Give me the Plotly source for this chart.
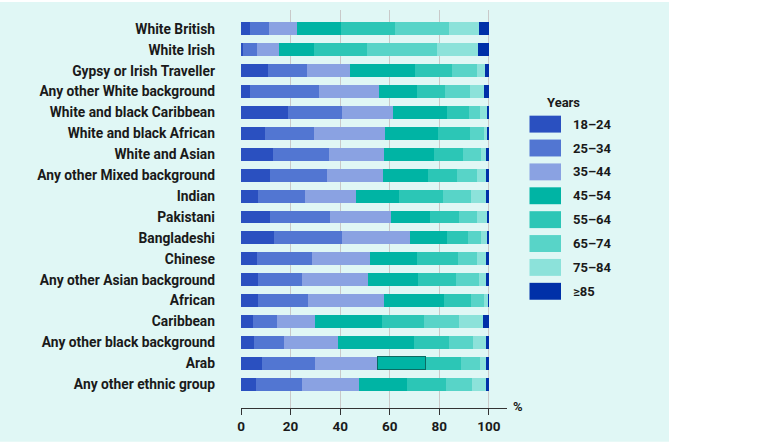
import plotly.graph_objects as go

categories = [
    "White British", "White Irish", "Gypsy or Irish Traveller", "Any other White background",
    "White and black Caribbean", "White and black African", "White and Asian",
    "Any other Mixed background", "Indian", "Pakistani", "Bangladeshi", "Chinese",
    "Any other Asian background", "African", "Caribbean", "Any other black background",
    "Arab", "Any other ethnic group",
]

age_groups = ["18–24", "25–34", "35–44", "45–54", "55–64", "65–74", "75–84", "≥85"]

age_18_24 = [3.6, 0.7, 10.9, 3.8, 19.1, 9.7, 12.8, 11.6, 7.0, 11.8, 13.3, 6.5, 6.9, 6.9, 4.7, 5.1, 8.5, 6.0]
age_25_34 = [7.6, 5.6, 15.7, 27.7, 21.6, 19.9, 22.5, 23.1, 18.9, 24.2, 27.3, 22.1, 17.7, 20.3, 9.8, 12.2, 21.3, 18.6]
age_35_44 = [11.2, 9.0, 17.4, 24.1, 20.5, 28.5, 22.2, 22.6, 20.6, 24.5, 27.7, 23.3, 26.7, 30.3, 15.5, 21.9, 25.4, 22.8]
age_45_54 = [17.9, 14.1, 26.0, 15.4, 21.9, 21.2, 20.3, 18.1, 17.3, 15.7, 14.8, 19.2, 19.9, 24.4, 26.9, 30.6, 19.3, 19.5]
age_55_64 = [21.7, 21.3, 15.1, 11.3, 8.8, 12.9, 11.7, 11.6, 17.8, 11.7, 8.4, 16.3, 15.6, 10.8, 17.0, 14.1, 14.2, 15.8]
age_65_74 = [21.9, 28.3, 10.1, 9.9, 4.5, 5.8, 7.3, 8.2, 11.3, 7.4, 5.3, 7.9, 9.2, 5.3, 13.9, 9.6, 7.7, 10.6]
age_75_84 = [12.3, 16.8, 3.2, 5.8, 2.7, 1.5, 2.4, 4.0, 5.9, 3.8, 2.5, 3.9, 3.2, 1.7, 10.0, 5.4, 2.8, 5.4]
age_85_plus = [3.8, 4.2, 1.6, 2.0, 0.9, 0.5, 0.8, 0.8, 1.2, 0.9, 0.7, 0.8, 0.8, 0.3, 2.2, 1.1, 0.8, 1.3]

series = [age_18_24, age_25_34, age_35_44, age_45_54, age_55_64, age_65_74, age_75_84, age_85_plus]
colors = ["#2a50c0", "#5276d2", "#8aa2e2", "#00b4a4", "#2cc6b6", "#58d4c8", "#8ce2da", "#0030a8"]

x_ticks = [0, 20, 40, 60, 80, 100]

FONT = "Roboto"
TEXT = "#1a1a1a"

fig = go.Figure()
for name, vals, col in zip(age_groups, series, colors):
    lw = [0] * len(categories)
    if name == "45–54":
        lw[categories.index("Arab")] = 1
    fig.add_trace(go.Bar(
        y=categories, x=vals, name=name, orientation="h",
        marker=dict(color=col, line=dict(width=lw, color="#0b6b63")),
        showlegend=False,
    ))

PL, PR, PT, PB = 241, 507, 10, 410
PW, PH = PR - PL, PB - PT


def px_x(px):
    return (px - PL) / PW


def px_y(py):
    return (PB - py) / PH


# background panel
fig.add_shape(type="rect", xref="paper", yref="paper",
              x0=px_x(0), x1=px_x(669), y0=px_y(444), y1=px_y(2),
              fillcolor="#e0f7f5", line=dict(width=0), layer="below")

# custom legend (large swatches)
fig.add_annotation(x=px_x(545), y=px_y(103), xref="paper", yref="paper", text="Years",
                   showarrow=False, xanchor="left", yanchor="middle",
                   font=dict(family=FONT, size=13, color=TEXT, weight="bold"))
for i, (name, col) in enumerate(zip(age_groups, colors)):
    cy = 124.7 + 24 * i
    fig.add_shape(type="rect", xref="paper", yref="paper",
                  x0=px_x(529.5), x1=px_x(561), y0=px_y(cy + 8.5), y1=px_y(cy - 8.5),
                  fillcolor=col, line=dict(width=0))
    fig.add_annotation(x=px_x(571), y=px_y(cy), xref="paper", yref="paper", text=name,
                       showarrow=False, xanchor="left", yanchor="middle",
                       font=dict(family=FONT, size=13, color=TEXT, weight="bold"))

fig.add_annotation(x=px_x(511), y=px_y(408), xref="paper", yref="paper", text="%",
                   showarrow=False, xanchor="left", yanchor="middle",
                   font=dict(family=FONT, size=13, color=TEXT, weight="bold"))

fig.update_layout(
    barmode="stack",
    bargap=0.38,
    width=778, height=444,
    margin=dict(l=PL, r=778 - PR, t=PT, b=444 - PB, pad=0),
    paper_bgcolor="white",
    plot_bgcolor="rgba(0,0,0,0)",
    font=dict(family=FONT, size=13.5, color=TEXT),
    hovermode=False,
    xaxis=dict(
        range=[0, 107.3], tickvals=x_ticks, ticktext=[str(v) for v in x_ticks],
        showgrid=True, gridcolor="#c9c9c9", gridwidth=1.2,
        showline=True, linecolor="#333333", linewidth=1,
        ticks="outside", ticklen=6, tickcolor="#333333", tickwidth=1,
        zeroline=False,
        tickfont=dict(family=FONT, size=13.5, color=TEXT, weight="bold"),
        fixedrange=True,
    ),
    yaxis=dict(
        type="category", categoryorder="array", categoryarray=categories,
        range=[17 + 1.14, -0.905],
        showgrid=False, showline=False, ticks="", zeroline=False,
        ticklabelstandoff=25,
        tickfont=dict(family=FONT, size=13.8, color=TEXT, weight="bold"),
        fixedrange=True,
    ),
)

fig.write_html("out.html", config={"displayModeBar": False},
               post_script="document.body.style.margin='0';document.body.style.padding='0';")
